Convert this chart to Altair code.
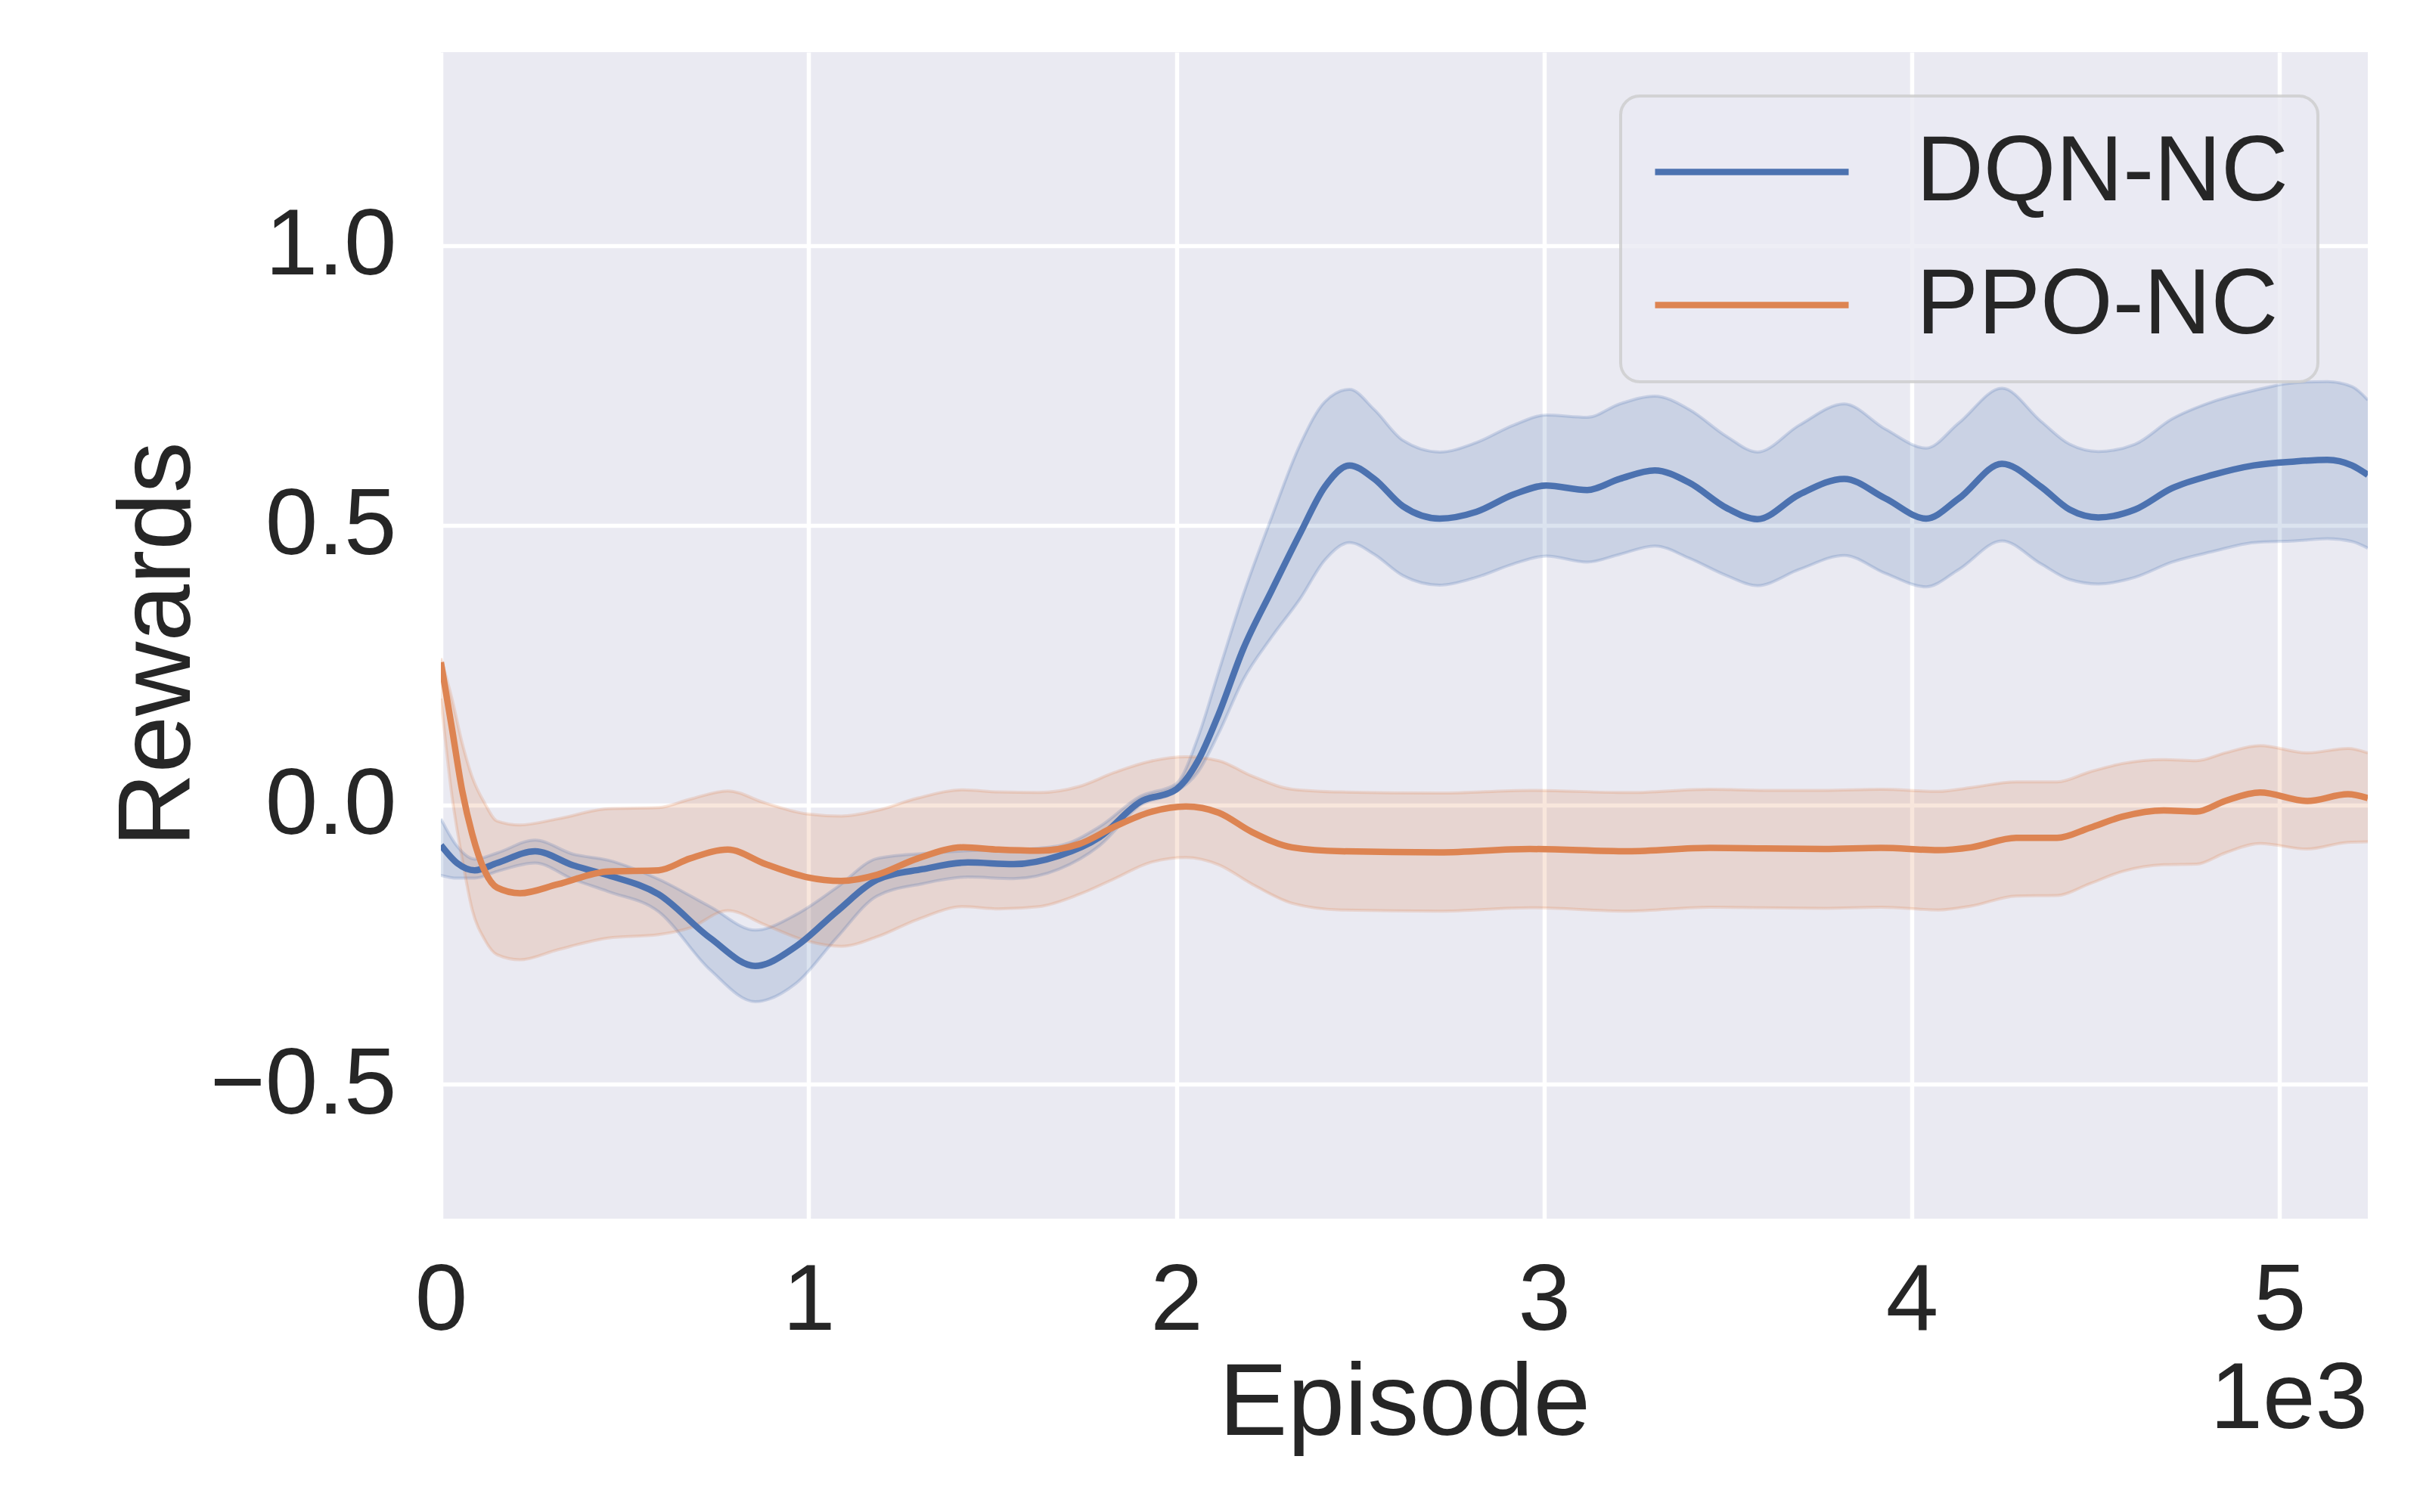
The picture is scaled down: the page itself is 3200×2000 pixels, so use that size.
import altair as alt
import pandas as pd

# ---------------- data ----------------
series_names = ["DQN-NC", "PPO-NC"]
series_colors = ["#4C72B0", "#DD8452"]

dqn_ep = [0, 44, 92, 153, 256, 359, 455, 592, 732, 855,
          966, 1076, 1186, 1310, 1433, 1557, 1681, 1791, 1901, 2000,
          2059, 2115, 2182, 2259, 2337, 2404, 2471, 2538, 2616, 2716,
          2816, 2917, 3006, 3117, 3206, 3301, 3395, 3496, 3580, 3694,
          3816, 3928, 4039, 4128, 4245, 4351, 4429, 4507, 4607, 4707,
          4818, 4930, 5041, 5130, 5197, 5240]
dqn_mean = [-0.072, -0.104, -0.117, -0.104, -0.083, -0.108, -0.126, -0.160, -0.238, -0.288,
            -0.253, -0.191, -0.134, -0.115, -0.103, -0.106, -0.091, -0.058, 0.005, 0.028,
            0.079, 0.162, 0.279, 0.383, 0.486, 0.569, 0.607, 0.583, 0.534, 0.512,
            0.524, 0.555, 0.571, 0.563, 0.583, 0.598, 0.576, 0.531, 0.511, 0.555,
            0.583, 0.548, 0.512, 0.548, 0.610, 0.569, 0.528, 0.514, 0.528, 0.566,
            0.590, 0.607, 0.614, 0.617, 0.607, 0.590]
dqn_hi = [-0.025, -0.074, -0.097, -0.086, -0.063, -0.088, -0.099, -0.133, -0.182, -0.224,
          -0.196, -0.148, -0.096, -0.087, -0.082, -0.080, -0.073, -0.039, 0.015, 0.038,
          0.121, 0.238, 0.376, 0.514, 0.645, 0.721, 0.743, 0.707, 0.652, 0.631,
          0.648, 0.679, 0.697, 0.693, 0.717, 0.731, 0.707, 0.659, 0.631, 0.679,
          0.717, 0.672, 0.638, 0.683, 0.745, 0.686, 0.645, 0.632, 0.645, 0.690,
          0.721, 0.741, 0.755, 0.757, 0.748, 0.724]
dqn_lo = [-0.126, -0.131, -0.131, -0.119, -0.104, -0.133, -0.155, -0.191, -0.295, -0.352,
          -0.319, -0.238, -0.163, -0.141, -0.129, -0.132, -0.115, -0.073, -0.001, 0.024,
          0.059, 0.128, 0.224, 0.300, 0.369, 0.438, 0.469, 0.448, 0.410, 0.393,
          0.407, 0.431, 0.445, 0.434, 0.448, 0.463, 0.441, 0.410, 0.392, 0.421,
          0.446, 0.414, 0.390, 0.421, 0.472, 0.431, 0.403, 0.395, 0.407, 0.434,
          0.453, 0.469, 0.472, 0.476, 0.471, 0.459]

ppo_ep = [0, 30, 58, 85, 119, 153, 215, 318, 455, 592,
          677, 780, 883, 993, 1089, 1186, 1296, 1420, 1516, 1626,
          1736, 1832, 1929, 2026, 2115, 2204, 2315, 2449, 2716, 2961,
          3228, 3451, 3600, 3761, 3916, 4072, 4161, 4284, 4395, 4484,
          4573, 4685, 4774, 4852, 4947, 5075, 5186, 5240]
ppo_mean = [0.255, 0.137, 0.025, -0.052, -0.118, -0.148, -0.158, -0.142, -0.119, -0.117,
            -0.096, -0.080, -0.106, -0.129, -0.136, -0.125, -0.096, -0.076, -0.080, -0.082,
            -0.070, -0.039, -0.013, -0.003, -0.014, -0.048, -0.076, -0.083, -0.085, -0.079,
            -0.083, -0.077, -0.078, -0.079, -0.077, -0.081, -0.076, -0.059, -0.059, -0.041,
            -0.021, -0.010, -0.012, 0.007, 0.022, 0.007, 0.019, 0.012]
ppo_hi = [0.262, 0.190, 0.110, 0.050, 0.003, -0.029, -0.036, -0.025, -0.007, -0.005,
          0.010, 0.025, 0.003, -0.016, -0.020, -0.010, 0.012, 0.027, 0.023, 0.022,
          0.033, 0.058, 0.078, 0.086, 0.079, 0.052, 0.028, 0.023, 0.021, 0.026,
          0.022, 0.028, 0.026, 0.026, 0.028, 0.024, 0.031, 0.041, 0.041, 0.059,
          0.074, 0.081, 0.079, 0.093, 0.106, 0.093, 0.101, 0.093]
ppo_lo = [0.190, 0.016, -0.097, -0.187, -0.241, -0.268, -0.277, -0.259, -0.238, -0.232,
          -0.220, -0.189, -0.215, -0.243, -0.253, -0.236, -0.205, -0.182, -0.186, -0.182,
          -0.160, -0.132, -0.103, -0.094, -0.107, -0.141, -0.176, -0.188, -0.190, -0.184,
          -0.190, -0.183, -0.184, -0.185, -0.183, -0.188, -0.181, -0.163, -0.162, -0.141,
          -0.119, -0.107, -0.106, -0.086, -0.069, -0.079, -0.067, -0.066]

x_ticks = [0, 1000, 2000, 3000, 4000, 5000]
y_ticks = [-0.5, 0.0, 0.5, 1.0]
x_domain = [0, 5240]
y_domain = [-0.74, 1.346]

# ---------------- table ----------------
frames = []
for name, ep, m, lo, hi in [
    (series_names[0], dqn_ep, dqn_mean, dqn_lo, dqn_hi),
    (series_names[1], ppo_ep, ppo_mean, ppo_lo, ppo_hi),
]:
    frames.append(pd.DataFrame({"episode": ep, "mean": m, "lo": lo, "hi": hi, "series": name}))
df = pd.concat(frames, ignore_index=True)

FONT = "Liberation Sans"
TXT = "#262626"
W, H = 2548, 1543

xs = alt.Scale(domain=x_domain, nice=False, zero=False)
ys = alt.Scale(domain=y_domain, nice=False, zero=False)

x_axis = alt.Axis(values=x_ticks, labelExpr="format(datum.value / 1000, 'd')",
                  title="Episode", grid=True, ticks=False, domain=False,
                  labelFlush=False, labelOverlap=False, labelPadding=47,
                  titlePadding=7, labelLimit=0)
y_axis = alt.Axis(values=y_ticks, format=".1f", title="Rewards", grid=True,
                  ticks=False, domain=False, labelPadding=59,
                  labelOverlap=False, labelLimit=0,
                  titleX=-333, titleY=783, titleAngle=270, titleAlign="center",
                  titleBaseline="alphabetic")

base = alt.Chart(df)

bands = base.mark_area(interpolate="monotone", opacity=0.2, clip=True).encode(
    x=alt.X("episode:Q", scale=xs, axis=x_axis),
    y=alt.Y("lo:Q", scale=ys, axis=y_axis),
    y2="hi:Q",
    color=alt.Color("series:N", scale=alt.Scale(domain=series_names, range=series_colors),
                    legend=None),
)

edges = base.transform_fold(["lo", "hi"], as_=["edge", "val"]).mark_line(
    interpolate="monotone", strokeWidth=4, opacity=0.22, clip=True).encode(
    x=alt.X("episode:Q", scale=xs),
    y=alt.Y("val:Q", scale=ys),
    color=alt.Color("series:N", scale=alt.Scale(domain=series_names, range=series_colors),
                    legend=None),
    detail="edge:N",
)

lines = base.mark_line(interpolate="monotone", strokeWidth=8.5, clip=True).encode(
    x=alt.X("episode:Q", scale=xs),
    y=alt.Y("mean:Q", scale=ys),
    color=alt.Color("series:N", scale=alt.Scale(domain=series_names, range=series_colors),
                    legend=alt.Legend(
        title=None, orient="none", legendX=1560, legendY=58,
        symbolType="M-4,0H4", symbolSize=4096, symbolStrokeWidth=8.5,
        labelFontSize=123, labelFont=FONT, labelColor=TXT, labelLimit=0,
        padding=39, rowPadding=52, symbolOffset=73, labelOffset=156,
        fillColor="rgba(234,234,242,0.8)", strokeColor="rgba(204,204,204,0.8)",
        cornerRadius=25)),
)

offset_text = alt.Chart(alt.Data(values=[{"t": "1e3"}])).mark_text(
    align="right", baseline="alphabetic", fontSize=125, font=FONT, color=TXT
).encode(x=alt.value(W), y=alt.value(1820), text="t:N")

chart = alt.layer(bands, edges, lines, offset_text).resolve_scale(
    color="independent"
).properties(
    width=W, height=H,
    padding={"left": 575, "top": 61, "right": 61, "bottom": 340},
    autosize=alt.AutoSizeParams(type="none"),
    background="white",
).configure_view(
    fill="#EAEAF2", strokeWidth=0
).configure_axis(
    gridColor="white", gridWidth=5.5, gridOpacity=1,
    labelFont=FONT, labelFontSize=125, labelColor=TXT,
    titleFont=FONT, titleFontSize=136, titleColor=TXT, titleFontWeight="normal",
).configure_legend(
    strokeWidth=4
)

chart.save("out.html", embed_options={"renderer": "svg", "actions": False})
